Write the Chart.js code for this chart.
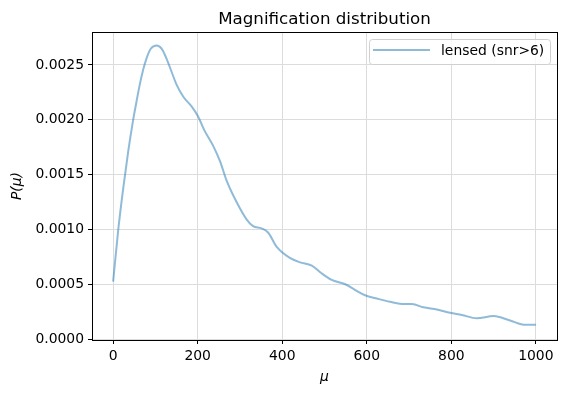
<!DOCTYPE html>
<html>
<head>
<meta charset="utf-8">
<script src="https://cdn.jsdelivr.net/npm/chart.js@4.4.0/dist/chart.umd.min.js"></script>
<style>
  html, body { margin: 0; padding: 0; background: #fff; }
  canvas { display: block; }
</style>
</head>
<body>
<canvas id="myChart" width="566" height="394"></canvas>
<script>
const mu = [0, 12, 24, 36, 47, 55, 63, 71, 79, 89, 103, 115, 126, 138, 150, 166, 186, 201, 215, 237, 253, 268, 292, 316, 331, 351, 367, 387, 418, 442, 470, 493, 517, 549, 572, 596, 624, 655, 683, 707, 734, 766, 797, 825, 860, 900, 939, 975, 1000];
const pMu = [0.000524, 0.000995, 0.00138, 0.00172, 0.00199, 0.00216, 0.00232, 0.002455, 0.00256, 0.002647, 0.002677, 0.002647, 0.00256, 0.00244, 0.00232, 0.00221, 0.00212, 0.00203, 0.00191, 0.00176, 0.00162, 0.00145, 0.00125, 0.00109, 0.00103, 0.00101, 0.00097, 0.00084, 0.00074, 0.00070, 0.00067, 0.00060, 0.00054, 0.00050, 0.00045, 0.00040, 0.00037, 0.00034, 0.00032, 0.00032, 0.00029, 0.00027, 0.00024, 0.00022, 0.00019, 0.00021, 0.00017, 0.00013, 0.00013];
const xTicks = [0, 200, 400, 600, 800, 1000];
const yTicks = [0, 0.0005, 0.001, 0.0015, 0.002, 0.0025];
const seriesLabel = 'lensed (snr>6)';
const chartTitle = 'Magnification distribution';

const FONT = "'DejaVu Sans', sans-serif";
const lineColor = 'rgba(31, 119, 180, 0.5)';

// frame, title and matplotlib-like legend
const extras = {
  id: 'extras',
  afterDraw(chart) {
    const ctx = chart.ctx;
    const a = chart.chartArea;
    ctx.save();
    ctx.strokeStyle = '#000';
    ctx.lineWidth = 1;
    ctx.strokeRect(Math.round(a.left) + 0.5, Math.round(a.top) + 0.5,
      Math.round(a.right - a.left), Math.round(a.bottom - a.top));

    ctx.fillStyle = '#000';
    ctx.font = '16.7px ' + FONT;
    ctx.textAlign = 'center';
    ctx.textBaseline = 'alphabetic';
    ctx.fillText(chartTitle, (a.left + a.right) / 2, a.top - 8);

    // legend box
    const bw = 181, bh = 25;
    const bx = a.right - 7 - bw, by = a.top + 7;
    ctx.beginPath();
    ctx.roundRect(bx + 0.5, by + 0.5, bw, bh, 3);
    ctx.fillStyle = 'rgba(255,255,255,0.8)';
    ctx.fill();
    ctx.strokeStyle = '#d0d0d0';
    ctx.stroke();
    ctx.beginPath();
    ctx.moveTo(bx + 4, by + 11);
    ctx.lineTo(bx + 61, by + 11);
    ctx.strokeStyle = lineColor;
    ctx.lineWidth = 2;
    ctx.stroke();
    ctx.fillStyle = '#000';
    ctx.font = '13.9px ' + FONT;
    ctx.textAlign = 'left';
    ctx.textBaseline = 'middle';
    ctx.fillText(seriesLabel, bx + 72, by + 12);
    ctx.restore();
  }
};

const ctx = document.getElementById('myChart').getContext('2d');
const myChart = new Chart(ctx, {
  type: 'scatter',
  data: {
    datasets: [{
      label: seriesLabel,
      data: mu.map((m, i) => ({ x: m, y: pMu[i] })),
      showLine: true,
      borderColor: lineColor,
      borderWidth: 2,
      pointRadius: 0,
      cubicInterpolationMode: 'monotone',
      fill: false
    }]
  },
  options: {
    responsive: false,
    animation: false,
    layout: { padding: { top: 32, right: 9, left: 0, bottom: 0 } },
    plugins: {
      legend: { display: false },
      title: { display: false },
      tooltip: { enabled: false }
    },
    scales: {
      x: {
        type: 'linear',
        min: -50,
        max: 1050,
        afterFit: (s) => { s.height = 54; },
        afterBuildTicks: (s) => { s.ticks = xTicks.map(v => ({ value: v })); },
        grid: { color: '#dcdcdc', tickColor: '#000', tickLength: 4 },
        border: { display: false },
        ticks: {
          color: '#000',
          font: { family: FONT, size: 13.9 },
          padding: 4,
          maxRotation: 0,
          callback: (v) => String(v)
        },
        title: {
          display: true,
          text: 'μ',
          color: '#000',
          font: { family: FONT, size: 13.9, style: 'italic' },
          padding: { top: 0, bottom: 8 }
        }
      },
      y: {
        type: 'linear',
        min: -0.000008,
        max: 0.0028,
        afterFit: (s) => { s.width = 92; },
        afterBuildTicks: (s) => { s.ticks = yTicks.map(v => ({ value: v })); },
        grid: { color: '#dcdcdc', tickColor: '#000', tickLength: 4 },
        border: { display: false },
        ticks: {
          color: '#000',
          font: { family: FONT, size: 13.9 },
          padding: 4,
          callback: (v) => v.toFixed(4)
        },
        title: {
          display: true,
          text: 'P(μ)',
          color: '#000',
          font: { family: FONT, size: 13.9, style: 'italic' },
          padding: { top: 9, bottom: 0 }
        }
      }
    }
  },
  plugins: [extras]
});
</script>
</body>
</html>
